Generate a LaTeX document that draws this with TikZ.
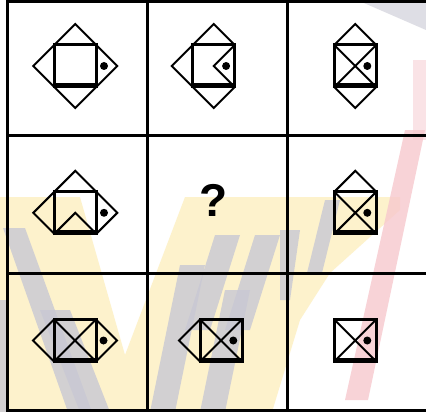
\documentclass[tikz,border=0pt]{standalone}
\usepackage{fontspec}
\setmainfont{Liberation Sans}
\begin{document}
\begin{tikzpicture}[x=1pt,y=-1pt,
  sqline/.style={line width=3pt,line join=miter},
  triline/.style={line width=2pt,line join=miter},
  xline/.style={line width=2pt},
  thickbar/.style={line width=5pt},
  gridline/.style={line width=3pt},
  wmyellow/.style={fill=wmY,draw=none},
  wmgray/.style={fill=wmG,draw=none,opacity=0.8},
  wmpink/.style={fill=wmP,draw=none,opacity=0.8}]
\definecolor{wmY}{RGB}{253,242,204}
\definecolor{wmG}{RGB}{200,200,212}
\definecolor{wmP}{RGB}{247,200,206}
\useasboundingbox (0,0) rectangle (426,412);
\fill[white] (0,0) rectangle (426,412);
% --- watermark (approximate) ---
\fill[wmyellow] (0,197) -- (80,197) -- (125,355) -- (185,197) -- (400,197) -- (400,210) -- (330,273) -- (300,320) -- (272,412) -- (0,412) -- cycle;
\fill[wmgray] (3,228) -- (25,228) -- (92,412) -- (68,412) -- cycle;
\fill[wmgray] (0,300) -- (6,300) -- (8,412) -- (0,412) -- cycle;
\fill[wmgray] (40,310) -- (70,310) -- (110,412) -- (80,412) -- cycle;
\fill[wmgray] (215,235) -- (240,235) -- (210,330) -- (185,330) -- cycle;
\fill[wmgray] (255,235) -- (280,235) -- (250,330) -- (225,330) -- cycle;
\fill[wmgray] (180,265) -- (205,265) -- (175,412) -- (150,412) -- cycle;
\fill[wmgray] (225,290) -- (250,290) -- (225,412) -- (200,412) -- cycle;
\fill[wmgray] (280,230) -- (300,230) -- (290,300) -- (280,300) -- cycle;
\fill[wmgray] (325,200) -- (340,200) -- (322,273) -- (307,273) -- cycle;
\fill[wmgray,opacity=0.6] (357,0) -- (426,0) -- (426,30) -- cycle;
\fill[wmpink] (405,130) -- (425,130) -- (368,400) -- (345,400) -- cycle;
\fill[wmpink,opacity=0.5] (413,60) -- (426,60) -- (426,140) -- (413,140) -- cycle;
% --- grid ---
\draw[gridline] (7.5,1.5) -- (427,1.5);
\draw[gridline] (7.5,135.5) -- (427,135.5);
\draw[gridline] (7.5,273) -- (427,273);
\draw[gridline] (7.5,410) -- (427,410);
\draw[gridline] (7.5,0) -- (7.5,412);
\draw[gridline] (147,0) -- (147,412);
\draw[gridline] (287,0) -- (287,412);
% --- cell 1 ---
\begin{scope}[shift={(75.3,66)}]
  \draw[triline] (-21,-21) -- (0,-42) -- (21,-21);
  \draw[triline] (-21,-21) -- (-42,0) -- (-21,21);
  \draw[triline] (21,-21) -- (42,0) -- (21,21);
  \draw[triline] (-21,21) -- (0,42) -- (21,21);
  \draw[sqline] (-21,-21) rectangle (21,21);
  \draw[thickbar] (-22.5,20) -- (22.5,20);
  \fill (28.7,0) circle (4);
\end{scope}
% --- cell 2 ---
\begin{scope}[shift={(213.8,66)}]
  \draw[triline] (-21,-21) -- (0,-42) -- (21,-21);
  \draw[triline] (-21,-21) -- (-42,0) -- (-21,21);
  \draw[triline] (-21,21) -- (0,42) -- (21,21);
  \draw[sqline] (-21,-21) rectangle (21,21);
  \draw[triline] (21,-21) -- (0,0) -- (21,21);
  \draw[thickbar] (-22.5,20) -- (22.5,20);
  \fill (12.3,0) circle (4);
\end{scope}
% --- cell 3 ---
\begin{scope}[shift={(355.3,66)}]
  \draw[triline] (-21,-21) -- (0,-42) -- (21,-21);
  \draw[triline] (-21,21) -- (0,42) -- (21,21);
  \draw[xline] (-21,-21) -- (21,21) (-21,21) -- (21,-21);
  \draw[sqline] (-21,-21) rectangle (21,21);
  \draw[thickbar] (-22.5,20) -- (22.5,20);
  \fill (12,0) circle (4);
\end{scope}
% --- cell 4 ---
\begin{scope}[shift={(75.3,212.8)}]
  \draw[triline] (-21,-21) -- (0,-42) -- (21,-21);
  \draw[triline] (-21,-21) -- (-42,0) -- (-21,21);
  \draw[triline] (21,-21) -- (42,0) -- (21,21);
  \draw[triline] (-21,21) -- (0,0) -- (21,21);
  \draw[sqline] (-21,-21) rectangle (21,21);
  \draw[thickbar] (-22.5,20) -- (22.5,20);
  \fill (28.7,0) circle (4);
\end{scope}
% --- cell 5 ---
\node[font=\fontsize{46}{46}\selectfont\bfseries, inner sep=0pt] (q) at (213.3,200.5) {?};
% --- cell 6 ---
\begin{scope}[shift={(355.3,212.8)}]
  \draw[triline] (-21,-21) -- (0,-42) -- (21,-21);
  \draw[xline] (-21,-21) -- (21,21) (-21,21) -- (21,-21);
  \draw[sqline] (-21,-21) rectangle (21,21);
  \draw[thickbar] (-22.5,20) -- (22.5,20);
  \fill (12,0) circle (4);
\end{scope}
% --- cell 7 ---
\begin{scope}[shift={(75,340.5)}]
  \draw[triline] (-21,-21) -- (-42,0) -- (-21,21);
  \draw[triline] (21,-21) -- (42,0) -- (21,21);
  \draw[xline] (-21,-21) -- (21,21) (-21,21) -- (21,-21);
  \draw[sqline] (-21,-21) rectangle (21,21);
  \draw[thickbar] (-22.5,20) -- (22.5,20);
  \fill (28.5,0) circle (4);
\end{scope}
% --- cell 8 ---
\begin{scope}[shift={(221,340.5)}]
  \draw[triline] (-21,-21) -- (-42,0) -- (-21,21);
  \draw[xline] (-21,-21) -- (21,21) (-21,21) -- (21,-21);
  \draw[sqline] (-21,-21) rectangle (21,21);
  \draw[thickbar] (-22.5,20) -- (22.5,20);
  \fill (12.3,0) circle (4);
\end{scope}
% --- cell 9 ---
\begin{scope}[shift={(355.3,340.5)}]
  \draw[xline] (-21,-21) -- (21,21) (-21,21) -- (21,-21);
  \draw[sqline] (-21,-21) rectangle (21,21);
  \draw[thickbar] (-22.5,20) -- (22.5,20);
  \fill (12,0) circle (4);
\end{scope}
\end{tikzpicture}
\end{document}
